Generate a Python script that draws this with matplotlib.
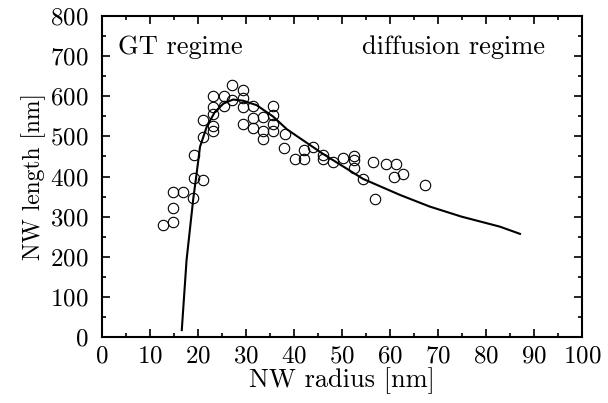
import matplotlib
matplotlib.use("Agg")
import matplotlib.pyplot as plt
from matplotlib.ticker import MultipleLocator

# measured NW data: radius [nm], length [nm]
radius = [12.6, 14.7, 14.7, 14.7, 16.8, 19.0, 19.2, 21.0, 19.2, 21.0, 21.0,
          23.2, 23.2, 23.2, 23.2, 23.2, 25.3, 25.3, 27.1, 27.1, 29.3, 29.3,
          29.3, 29.3, 31.4, 31.4, 31.4, 33.6, 33.6, 33.6, 35.7, 35.7, 35.7,
          35.7, 38.1, 38.0, 40.1, 42.1, 42.1, 44.0, 46.1, 46.1, 48.2, 50.3,
          52.5, 52.4, 52.4, 54.4, 56.9, 56.5, 59.1, 61.2, 60.8, 62.8, 67.2]
length = [278, 287, 321, 361, 361, 347, 396, 391, 453, 499, 540,
          513, 527, 555, 574, 601, 601, 577, 627, 591, 616, 596,
          573, 531, 577, 545, 521, 549, 514, 494, 577, 553, 530,
          513, 505, 471, 444, 444, 466, 474, 454, 443, 436, 445,
          451, 441, 421, 393, 343, 436, 431, 430, 400, 406, 378]

# model curve
model_r = [16.6, 17.6, 19.0, 19.7, 20.4, 21.8, 23.5, 25.3, 27.3, 29.4, 32.2,
           35.7, 38.5, 41.3, 46.1, 54.4, 62.1, 68.3, 74.9, 82.9, 87.1]
model_l = [17, 192, 345, 408, 474, 524, 561, 582, 592, 589, 578,
           549, 518, 495, 456, 394, 354, 325, 300, 275, 257]

plt.rcParams["font.family"] = "cmr10"
plt.rcParams["axes.formatter.use_mathtext"] = True

fig = plt.figure(figsize=(6.08, 4.03), dpi=100)
ax = fig.add_axes([0.168, 0.164, 0.789, 0.796])

ax.plot(model_r, model_l, color="black", linewidth=1.5, zorder=2)
ax.plot(radius, length, linestyle="none", marker="o", markersize=7.5,
        markerfacecolor="none", markeredgecolor="black", markeredgewidth=0.8,
        zorder=3)

ax.text(3.3, 705, "GT regime", fontsize=19, va="baseline")
ax.text(92.3, 705, "diffusion regime", fontsize=19, ha="right", va="baseline")

ax.set_xlim(0, 100)
ax.set_ylim(0, 800)
ax.xaxis.set_major_locator(MultipleLocator(10))
ax.xaxis.set_minor_locator(MultipleLocator(5))
ax.yaxis.set_major_locator(MultipleLocator(100))
ax.yaxis.set_minor_locator(MultipleLocator(50))
ax.tick_params(which="both", direction="in", top=True, right=True, width=1.2,
               labelsize=18)
ax.tick_params(which="major", length=6)
ax.tick_params(which="minor", length=3)
ax.tick_params(axis="y", which="major", pad=10)
ax.tick_params(axis="x", which="major", pad=6)
for sp in ax.spines.values():
    sp.set_linewidth(1.5)

ax.set_xlabel("NW radius [nm]", fontsize=19, labelpad=0)
ax.set_ylabel("NW length [nm]", fontsize=17, labelpad=3)

fig.savefig("out.png", dpi=100)
